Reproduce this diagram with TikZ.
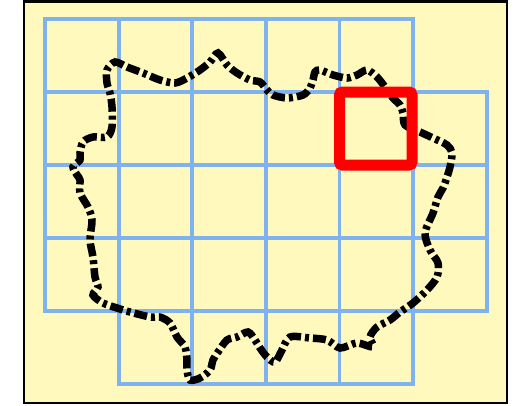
\documentclass[tikz,border=0pt]{standalone}
\usetikzlibrary{calc}
\definecolor{paper}{RGB}{255,249,190}
\definecolor{gridblue}{RGB}{128,178,240}
\definecolor{markred}{RGB}{255,0,0}
\tikzset{
  frame/.style={draw=black,line width=2.5pt,fill=paper},
  cell/.style={draw=gridblue,line width=3.8pt},
  outline/.style={draw=black,line width=7.5pt,dash pattern=on 13pt off 4pt on 4pt off 4pt},
  marker/.style={draw=markred,line width=11pt,rounded corners=3pt}
}
\begin{document}
\begin{tikzpicture}[x=1pt,y=-1pt]
\useasboundingbox (0,0) rectangle (525,405);
\fill[white] (0,0) rectangle (525,405);
\draw[frame] (24,1.5) rectangle (507,403);
% grid cells
\def\gx{45}\def\gy{19}\def\gs{73.6}\def\gt{73}
\foreach \r/\cfrom/\cto in {0/0/4,1/0/5,2/0/5,3/0/5,4/1/4}{
  \foreach \c in {\cfrom,...,\cto}{
    \draw[cell] ({\gx+\c*\gs},{\gy+\r*\gt}) rectangle ({\gx+(\c+1)*\gs},{\gy+(\r+1)*\gt});
  }
}
% irregular outline
\draw[outline] plot[smooth cycle,tension=0.5] coordinates{
(115,62) (127,67) (143,73) (160,80) (175,83) (187,78) (200,70) (210,62) (218,53)
(227,65) (237,73) (250,80) (260,82) (267,90) (273,95) (287,98) (303,95) (310,88)
(313,80) (315,72) (320,70) (333,75) (347,78) (357,75) (367,70) (377,77) (385,87)
(393,98) (400,105) (403,113) (405,125) (420,132) (433,138) (447,145) (452,153)
(450,167) (447,177) (443,188) (438,197) (433,213) (425,233) (430,250) (438,263)
(437,277) (427,290) (413,303) (400,312) (390,320) (377,327) (370,337) (373,347)
(357,343) (340,348) (327,340) (310,338) (290,337) (282,350) (275,362) (267,357)
(260,348) (255,340) (248,332) (237,337) (227,340) (218,352) (213,360) (210,370)
(200,378) (190,380) (187,370) (187,360) (185,347) (177,337) (170,323) (160,317)
(150,317) (130,312) (117,308) (103,303) (93,295) (98,287) (95,277) (93,257)
(90,240) (92,220) (88,207) (80,193) (80,180) (77,175) (73,167) (80,160) (80,153)
(83,142) (93,137) (107,137) (112,127) (112,107) (110,93) (107,83) (107,70)};
% red marker square
\draw[marker] (339.5,92) rectangle (412,165);
\end{tikzpicture}
\end{document}
